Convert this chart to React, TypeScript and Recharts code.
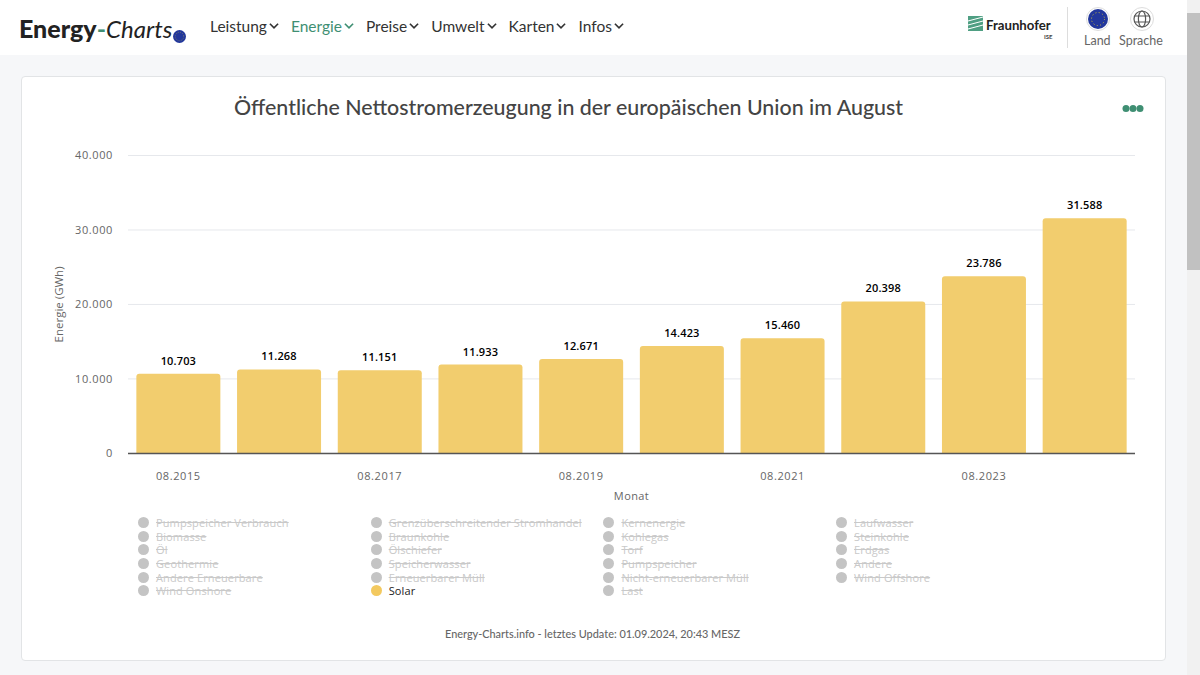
import { BarChart, Bar, XAxis, YAxis, CartesianGrid, LabelList, Label, Legend } from 'recharts';

const months = ['08.2015', '08.2016', '08.2017', '08.2018', '08.2019', '08.2020', '08.2021', '08.2022', '08.2023', '08.2024'];
const solar = [10703, 11268, 11151, 11933, 12671, 14423, 15460, 20398, 23786, 31588];
const yTicks = [0, 10000, 20000, 30000, 40000];
const navItems = ['Leistung', 'Energie', 'Preise', 'Umwelt', 'Karten', 'Infos'];
const legendItems = [
  'Pumpspeicher Verbrauch', 'Grenzüberschreitender Stromhandel', 'Kernenergie', 'Laufwasser',
  'Biomasse', 'Braunkohle', 'Kohlegas', 'Steinkohle',
  'Öl', 'Ölschiefer', 'Torf', 'Erdgas',
  'Geothermie', 'Speicherwasser', 'Pumpspeicher', 'Andere',
  'Andere Erneuerbare', 'Erneuerbarer Müll', 'Nicht-erneuerbarer Müll', 'Wind Offshore',
  'Wind Onshore', 'Solar', 'Last',
];

const chartData = months.map((month, i) => ({ month, solar: solar[i] }));

const FONT = '"Open Sans", sans-serif';
const UI_FONT = 'Lato, sans-serif';
const GREEN = '#3f8f73';
const SOLAR = '#f2cd6e';

const fmt = (v: number) => v.toLocaleString('de-DE');

function Chevron({ color = '#333' }: { color?: string }) {
  return (
    <svg width="10" height="8" viewBox="0 0 11 8" style={{ marginLeft: 2 }}>
      <path d="M1 1.5 L5.5 6 L10 1.5" fill="none" stroke={color} strokeWidth="1.8" />
    </svg>
  );
}

function EuDot({ size }: { size: number }) {
  return (
    <svg width={size} height={size} viewBox="0 0 20 20">
      <circle cx="10" cy="10" r="10" fill="#22379c" />
      <circle cx="10" cy="10" r="6.5" fill="none" stroke="#c8b83c" strokeWidth="1" strokeDasharray="1 2.4" />
    </svg>
  );
}

function LegendGrid() {
  return (
    <div style={{ display: 'grid', gridTemplateColumns: 'repeat(4, 232.7px)', gridAutoRows: '13.7px', fontFamily: FONT, fontSize: 11, letterSpacing: 0.12 }}>
      {legendItems.map((name) => {
        const active = name === 'Solar';
        return (
          <div key={name} style={{ display: 'flex', alignItems: 'center', whiteSpace: 'nowrap' }}>
            <span style={{ width: 11, height: 11, borderRadius: '50%', background: active ? '#f3c95f' : '#c4c4c4', marginRight: 7, flex: 'none' }} />
            <span style={{ color: active ? '#222' : '#c9c9c9', textDecoration: active ? 'none' : 'line-through' }}>{name}</span>
          </div>
        );
      })}
    </div>
  );
}

export default function App() {
  return (
    <div style={{ position: 'absolute', left: 0, top: 0, width: 1200, height: 675, overflow: 'hidden', background: '#f6f7f9', fontFamily: UI_FONT }}>
      {/* header */}
      <div style={{ position: 'absolute', left: 0, top: 0, width: 1187, height: 55, background: '#fff' }}>
        <div style={{ position: 'absolute', left: 19, top: 11, fontSize: 25, lineHeight: '34px', color: '#222', whiteSpace: 'nowrap', display: 'flex', alignItems: 'baseline' }}>
          <b style={{ fontWeight: 900 }}>Energy</b>
          <b style={{ color: GREEN }}>-</b>
          <i style={{ fontSize: 24 }}>Charts</i>
        </div>
        <div style={{ position: 'absolute', left: 173, top: 27 }}><EuDot size={13} /></div>
        <div style={{ position: 'absolute', left: 210, top: 15, display: 'flex', fontSize: 15.5, lineHeight: '22px', color: '#333' }}>
          {navItems.map((n) => (
            <span key={n} style={{ display: 'flex', alignItems: 'center', marginRight: 12, color: n === 'Energie' ? GREEN : '#333' }}>
              {n}<Chevron color={n === 'Energie' ? GREEN : '#333'} />
            </span>
          ))}
        </div>
        <svg style={{ position: 'absolute', left: 968, top: 16 }} width="15" height="15" viewBox="0 0 15 15">
          <rect width="15" height="15" fill="#4f9f83" />
          <path d="M0 5 L15 1 M0 9 L15 5 M0 13 L15 9" stroke="#fff" strokeWidth="1" />
        </svg>
        <div style={{ position: 'absolute', left: 986, top: 16, fontSize: 13.2, fontWeight: 700, color: '#222', lineHeight: '18px' }}>Fraunhofer</div>
        <div style={{ position: 'absolute', left: 1044, top: 33, fontSize: 6, fontWeight: 700, color: '#444' }}>ISE</div>
        <div style={{ position: 'absolute', left: 1067, top: 7, width: 1, height: 41, background: '#ddd' }} />
        <div style={{ position: 'absolute', left: 1086, top: 7, width: 22, height: 22, borderRadius: '50%', border: '1px solid #ddd' }} />
        <div style={{ position: 'absolute', left: 1088, top: 9 }}><EuDot size={20} /></div>
        <div style={{ position: 'absolute', left: 1130, top: 7, width: 22, height: 22, borderRadius: '50%', border: '1px solid #ddd' }} />
        <svg style={{ position: 'absolute', left: 1133, top: 10 }} width="18" height="18" viewBox="0 0 18 18" fill="none" stroke="#555" strokeWidth="1.2">
          <circle cx="9" cy="9" r="8" />
          <ellipse cx="9" cy="9" rx="3.6" ry="8" />
          <path d="M1.5 6 H16.5 M1.5 12 H16.5" />
        </svg>
        <div style={{ position: 'absolute', left: 1084, top: 33, fontSize: 12.5, color: '#666' }}>Land</div>
        <div style={{ position: 'absolute', left: 1119, top: 33, fontSize: 12.5, color: '#666' }}>Sprache</div>
      </div>

      {/* scrollbar */}
      <div style={{ position: 'absolute', left: 1187, top: 0, width: 13, height: 675, background: '#f1f1f1' }} />
      <div style={{ position: 'absolute', left: 1187, top: 13, width: 13, height: 257, background: '#c1c1c1' }} />

      {/* card */}
      <div style={{ position: 'absolute', left: 21, top: 76, width: 1143, height: 583, background: '#fff', border: '1px solid #e2e4e6', borderRadius: 4 }} />
      <div style={{ position: 'absolute', left: 21, top: 92, width: 1095, textAlign: 'center', fontSize: 21.4, fontWeight: 500, color: '#444', lineHeight: '30px', whiteSpace: 'nowrap' }}>
        Öffentliche Nettostromerzeugung in der europäischen Union im August
      </div>
      <svg style={{ position: 'absolute', left: 1122, top: 104 }} width="22" height="9">
        <circle cx="4" cy="4.5" r="3.5" fill={GREEN} />
        <circle cx="11" cy="4.5" r="3.5" fill={GREEN} />
        <circle cx="18" cy="4.5" r="3.5" fill={GREEN} />
      </svg>

      <div style={{ position: 'absolute', left: 0, top: 0 }}>
        <BarChart
          width={1187}
          height={675}
          data={chartData}
          margin={{ top: 155.5, right: 52, bottom: 99.5, left: 68 }}
          barCategoryGap="8.3%"
        >
          <CartesianGrid horizontal vertical={false} stroke="#e6e8ec" />
          <XAxis
            dataKey="month"
            interval={1}
            height={40}
            tickLine={false}
            axisLine={{ stroke: '#555', strokeWidth: 1.5 }}
            tick={{ fill: '#666', fontSize: 11, letterSpacing: 0.6, fontFamily: FONT }}
            tickMargin={12.5}
          >
            <Label value="Monat" position="insideBottom" offset={-6.5} fill="#666" fontSize={11} fontFamily={FONT} letterSpacing={0.4} />
          </XAxis>
          <YAxis
            width={60}
            domain={[0, 40000]}
            ticks={yTicks}
            tickFormatter={fmt}
            tickLine={false}
            axisLine={false}
            tickMargin={9}
            tick={{ fill: '#666', fontSize: 11, letterSpacing: 0.6, fontFamily: FONT }}
          >
            <Label value="Energie (GWh)" angle={-90} position="insideLeft" offset={-9} fill="#666" fontSize={11.5} fontFamily={FONT} style={{ textAnchor: 'middle' }} />
          </YAxis>
          <Bar dataKey="solar" fill={SOLAR} radius={[3, 3, 0, 0]} isAnimationActive={false}>
            <LabelList
              dataKey="solar"
              position="top"
              offset={9}
              formatter={(v: number) => fmt(v)}
              fill="#000"
              fontSize={11}
              fontWeight={600}
              letterSpacing={0.15}
              fontFamily={FONT}
            />
          </Bar>
          <Legend
            content={() => <LegendGrid />}
            wrapperStyle={{ position: 'absolute', left: 138, top: 515.5, width: 960, bottom: 'auto' }}
          />
        </BarChart>
      </div>

      <div style={{ position: 'absolute', left: 21, top: 626, width: 1143, textAlign: 'center', fontSize: 10.9, fontWeight: 500, color: '#666', lineHeight: '16px' }}>
        Energy-Charts.info - letztes Update: 01.09.2024, 20:43 MESZ
      </div>
    </div>
  );
}
